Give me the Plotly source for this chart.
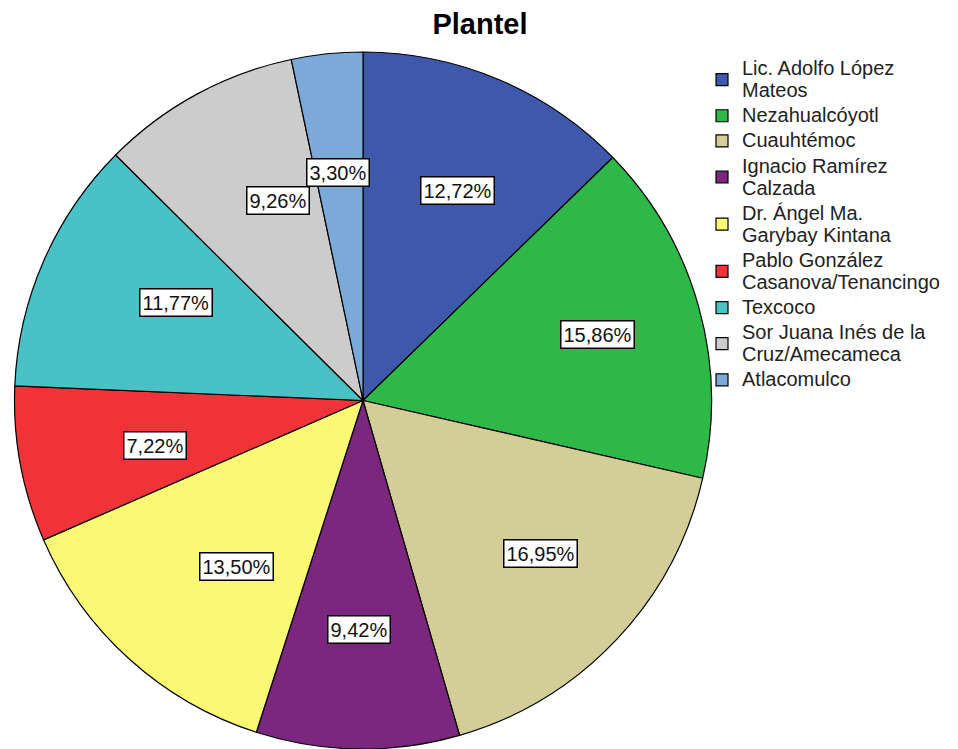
import math
import plotly.graph_objects as go

labels = ["Lic. Adolfo López<br>Mateos", "Nezahualcóyotl", "Cuauhtémoc",
          "Ignacio Ramírez<br>Calzada", "Dr. Ángel Ma.<br>Garybay Kintana",
          "Pablo González<br>Casanova/Tenancingo", "Texcoco",
          "Sor Juana Inés de la<br>Cruz/Amecameca", "Atlacomulco"]
values = [12.72, 15.86, 16.95, 9.42, 13.50, 7.22, 11.77, 9.26, 3.30]
colors = ["#3E58AC", "#2EB848", "#D3CE97", "#7B277D", "#FBF873",
          "#EF3338", "#48C2C5", "#CCCCCC", "#7BAAD9"]

W, H = 958, 749
dx0, dx1 = 13 / W, 713 / W
dy0, dy1 = 0.0, (H - 52) / H

legend_text = ['<span style="font-size:20px">' + "</span><br><span style=\"font-size:20px\">".join(l.split("<br>")) + "</span>"
               for l in labels]

fig = go.Figure(go.Pie(
    labels=legend_text, values=values, sort=False, direction="clockwise", rotation=0,
    marker=dict(colors=colors, line=dict(color="black", width=1.2)),
    textinfo="none", hoverinfo="percent",
    domain=dict(x=[dx0, dx1], y=[dy0, dy1]),
))

# label boxes placed along each slice's mid angle
rad_px = min((dx1 - dx0) * W, (dy1 - dy0) * H) / 2
cx = (dx0 + dx1) / 2
cy = (dy0 + dy1) / 2
total = sum(values)
cum = 0.0
annotations = []
for v in values:
    mid = (cum + v / 2) / total * 2 * math.pi
    cum += v
    r = rad_px * 0.70
    annotations.append(dict(
        x=cx + r * math.sin(mid) / W, y=cy + r * math.cos(mid) / H,
        xref="paper", yref="paper", showarrow=False,
        text=f"{v:.2f}%".replace(".", ","),
        font=dict(family="Arial, Liberation Sans", size=20, color="#111111"),
        bgcolor="white", bordercolor="black", borderwidth=1.5, borderpad=2,
    ))

fig.update_layout(
    width=W, height=H,
    margin=dict(l=0, r=0, t=0, b=0),
    paper_bgcolor="white", plot_bgcolor="white",
    title=dict(text="<b>Plantel</b>", x=480 / W, xanchor="center", y=1 - 24 / H, yanchor="middle",
               font=dict(family="Arial, Liberation Sans", size=29, color="black")),
    legend=dict(x=702 / W, xanchor="left", y=1 - 51 / H, yanchor="top",
                font=dict(family="Arial, Liberation Sans", size=17, color="#222222"),
                tracegroupgap=0, itemwidth=30, bgcolor="rgba(0,0,0,0)"),
    annotations=annotations,
)

fig.write_html("out.html")
